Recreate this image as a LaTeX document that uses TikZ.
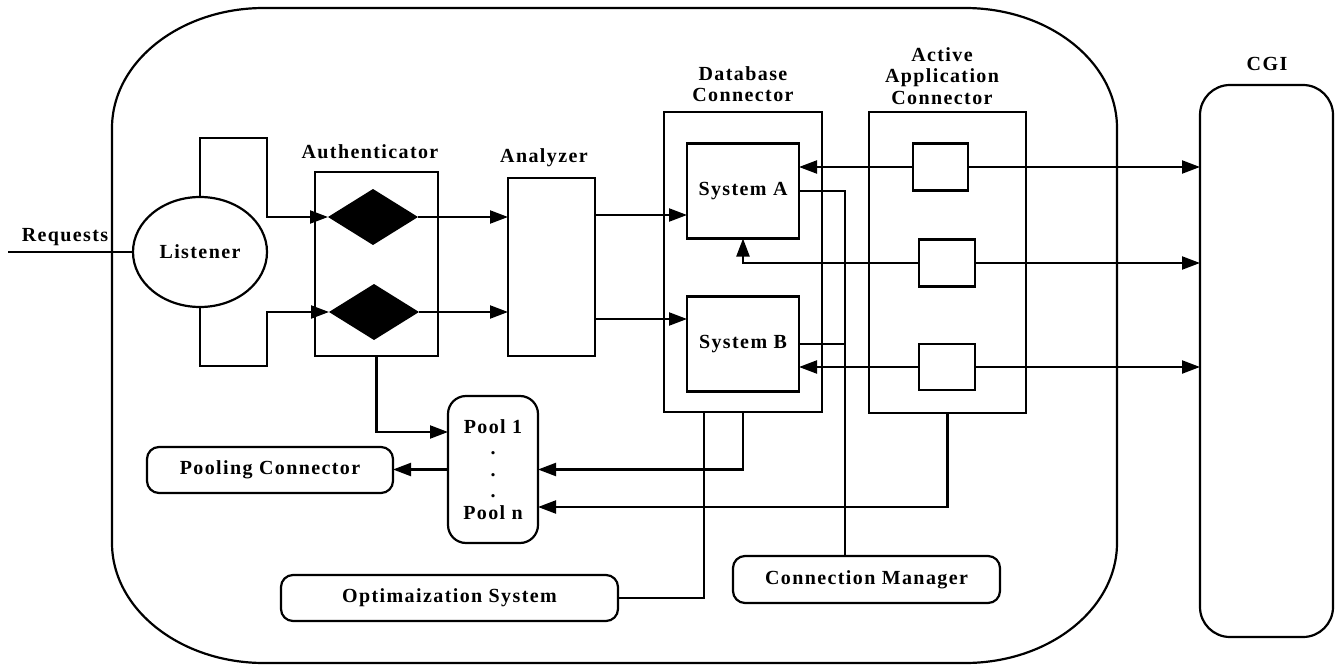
\documentclass[tikz,border=0pt]{standalone}
\usepackage{fontspec}
\setmainfont[LetterSpace=7]{Liberation Serif}
\usetikzlibrary{shapes.geometric,arrows.meta,calc}
\begin{document}
\begin{tikzpicture}[x=1pt,y=-1pt,
  ln/.style={line width=2.2pt},
  arr/.style={line width=2.2pt,-{Triangle[length=18pt,width=13pt]}},
  box/.style={draw,line width=2.2pt,inner sep=0pt,outer sep=0pt},
  rbox/.style={box,rounded corners=12pt},
  lbl/.style={inner sep=0pt,align=center},
  blackdia/.style={diamond,fill=black,inner sep=0pt,outer sep=0pt,minimum width=90pt,minimum height=56pt},
  every node/.append style={font=\fontsize{20}{21.5}\selectfont\bfseries}]
\useasboundingbox (0,0) rectangle (1336,666);

% big container
\draw[ln] (264,8) -- (965,8) .. controls (1049,8) and (1117,62) .. (1117,128)
  -- (1117,543) .. controls (1117,609) and (1049,663) .. (965,663)
  -- (264,663) .. controls (180,663) and (112,609) .. (112,543)
  -- (112,128) .. controls (112,62) and (180,8) .. (264,8) -- cycle;

% nodes
\node[box,ellipse,minimum width=134pt,minimum height=110pt] (listener) at (200,252) {Listener};
\node[box,minimum width=123pt,minimum height=184pt] (auth) at (376.5,264) {};
\node[blackdia] (d1) at (373,217) {};
\node[blackdia] (d2) at (374,312) {};
\node[box,minimum width=87pt,minimum height=178pt] (analyzer) at (551.5,267) {};
\node[box,minimum width=158pt,minimum height=300pt] (dbc) at (743,262) {};
\node[box,minimum width=112pt,minimum height=95pt] (sysA) at (743,191) {System A};
\node[box,minimum width=112pt,minimum height=95pt] (sysB) at (743,344) {System B};
\node[box,minimum width=157pt,minimum height=301pt] (aac) at (947.5,262.5) {};
\node[box,minimum width=55pt,minimum height=47pt] (b1) at (940.5,167) {};
\node[box,minimum width=56pt,minimum height=47pt] (b2) at (947,263) {};
\node[box,minimum width=56pt,minimum height=46pt] (b3) at (947,367) {};
\node[box,rounded corners=18pt,minimum width=90pt,minimum height=147pt,align=center] (pool) at (493,469.5) {Pool 1\\.\\.\\.\\Pool n};
\node[rbox,minimum width=246pt,minimum height=46pt] (pc) at (270,470) {Pooling Connector};
\node[rbox,minimum width=337pt,minimum height=46pt] (opt) at (449.5,598) {Optimaization System};
\node[rbox,minimum width=267pt,minimum height=47pt] (cm) at (866.5,579.5) {Connection Manager};
\node[box,rounded corners=30pt,minimum width=133pt,minimum height=552pt] (cgi) at (1266.5,361) {};

% labels
\node[lbl] (lreq) at (65,237) {Requests};
\node[lbl] (lauth) at (370,152) {Authenticator};
\node[lbl] (lana) at (544,158) {Analyzer};
\node[lbl] (ldbc) at (743,84) {Database\\Connector};
\node[lbl] (laac) at (942,76) {Active\\Application\\Connector};
\node[lbl] (lcgi) at (1267,64) {CGI};

% helper coordinates
\coordinate (aA) at ([yshift=-24pt]sysA.west);
\coordinate (aB) at ([yshift=25pt]sysB.west);
\coordinate (cmtop) at ([xshift=-21.5pt]cm.north);
\coordinate (p1) at ([yshift=37.5pt]pool.west);
\coordinate (pn) at ([yshift=-37.5pt]pool.east);
\coordinate (dbcL) at ([xshift=-39pt]dbc.south);
\coordinate (rq) at (8,252);

% connectors
\draw[ln] (rq) -- (listener.west);
\draw[arr] (listener.north) -- ++(0,-59) -- ++(67,0) |- (d1.west);
\draw[arr] (listener.south) -- ++(0,59) -- ++(67,0) |- (d2.west);
\draw[arr] (d1.east) -- (d1.east -| analyzer.west);
\draw[arr] (d2.east) -- (d2.east -| analyzer.west);
\draw[arr] (aA -| analyzer.east) -- (aA);
\draw[arr] (aB -| analyzer.east) -- (aB);

\draw[arr] (b1.west) -- (b1.west -| sysA.east);
\draw[arr] (b1.east) -- (b1.east -| cgi.west);
\draw[arr] (b2.west) -| (sysA.south);
\draw[arr] (b2.east) -- (b2.east -| cgi.west);
\draw[arr] (b3.west) -- (b3.west -| sysB.east);
\draw[arr] (b3.east) -- (b3.east -| cgi.west);

\draw[ln] (sysA.east) -| (cmtop);
\draw[ln] (sysB.east) -- (sysB.east -| cmtop);

\draw[arr] (auth.south) |- (p1);
\draw[arr] (pool.west) -- (pool.west -| pc.east);
\draw[arr] (dbc.south) |- (pool.east);
\draw[arr] (aac.south) |- (pn);
\draw[ln] (dbcL) |- (opt.east);
\end{tikzpicture}
\end{document}
